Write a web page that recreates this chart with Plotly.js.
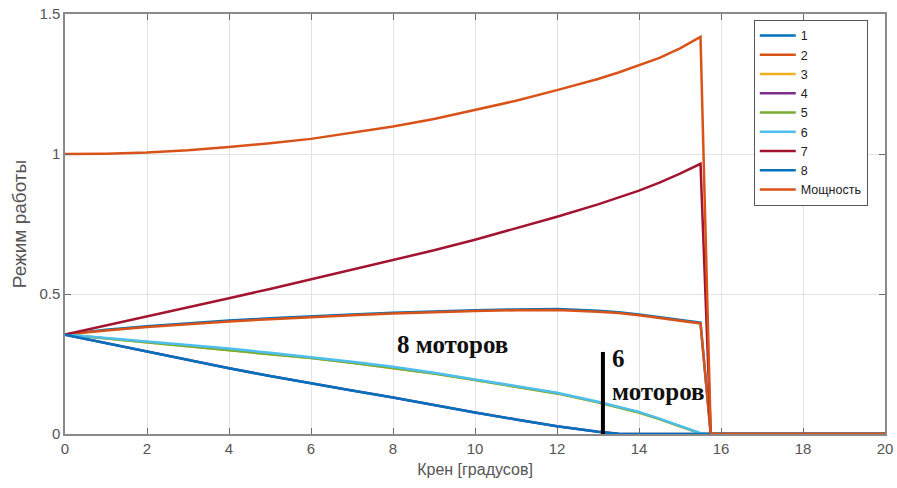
<!DOCTYPE html>
<html><head><meta charset="utf-8">
<script src="https://cdn.plot.ly/plotly-3.0.1.min.js"></script>
<style>body{margin:0;background:#fff}#c{width:897px;height:488px}</style>
</head><body><div id="c"></div>
<script>
const xs = [0,1,2,3,4,5,6,7,8,9,10,11,12,13,13.5,14,14.5,15,15.5,15.75,16,17,18,19,20];
const power  = [1.0,1.001,1.005,1.013,1.025,1.038,1.054,1.075,1.098,1.125,1.157,1.19,1.228,1.268,1.291,1.316,1.343,1.377,1.418,0,0,0,0,0,0];
const motor7 = [0.355,0.387,0.42,0.452,0.485,0.518,0.552,0.586,0.62,0.656,0.694,0.734,0.776,0.82,0.844,0.869,0.898,0.93,0.965,0,0,0,0,0,0];
const motorMid = [0.355,0.37,0.382,0.393,0.402,0.41,0.418,0.424,0.43,0.435,0.439,0.442,0.443,0.437,0.432,0.424,0.414,0.405,0.395,0,0,0,0,0,0];
const motorMidB = [0.355,0.372,0.385,0.396,0.405,0.413,0.421,0.427,0.433,0.438,0.442,0.445,0.446,0.44,0.435,0.427,0.417,0.408,0.398,0,0,0,0,0,0];
const motorLight = [0.355,0.343,0.331,0.318,0.305,0.29,0.275,0.258,0.24,0.219,0.195,0.172,0.147,0.115,0.098,0.079,0.055,0.028,0.003,0,0,0,0,0,0];
const motorLightG = [0.355,0.341,0.328,0.315,0.301,0.286,0.271,0.254,0.236,0.216,0.193,0.17,0.145,0.113,0.096,0.077,0.053,0.027,0.002,0,0,0,0,0,0];
const motorDark = [0.355,0.325,0.294,0.264,0.235,0.207,0.18,0.155,0.13,0.103,0.077,0.052,0.028,0.008,0.001,0,0,0,0,0,0,0,0,0,0];
const names = ['1','2','3','4','5','6','7','8','Мощность'];
const colors = ['#0072BD','#D95319','#EDB120','#7E2F8E','#77AC30','#4DBEEE','#A2142F','#0072BD','#D95319'];
const series = [motorMidB, motorMid, motorLightG, motorDark, motorLightG, motorLight, motor7, motorDark, power];
const labelText8 = '<b>8 моторов</b>';
const labelText6a = '<b>6</b>';
const labelText6b = '<b>моторов</b>';
const barX = 13.12, barTop = 0.293;

const traces = series.map((ys,i)=>({x:xs,y:ys,type:'scatter',mode:'lines',name:names[i],
  line:{color:colors[i],width:2.5}}));

const axisCommon = {showline:true,linecolor:'#8a8a8a',linewidth:1.5,mirror:'ticks',ticks:'inside',ticklen:6,
  tickcolor:'#6a6a6a',gridcolor:'#e3e3e3',zeroline:false,tickfont:{family:'Liberation Sans, Arial',size:15,color:'#555'}};

const serif = 'Liberation Serif, Times New Roman';
const layout = {
  width:897,height:488,margin:{l:65,r:12,t:14,b:54},
  paper_bgcolor:'#fff',plot_bgcolor:'#fff',
  xaxis:Object.assign({},axisCommon,{range:[0,20],dtick:2,tick0:0,
    title:{text:'Крен [градусов]',font:{family:'Liberation Sans, Arial',size:16,color:'#555'},standoff:8}}),
  yaxis:Object.assign({},axisCommon,{range:[0,1.5],tickvals:[0,0.5,1,1.5],ticktext:['0','0.5','1','1.5'],
    title:{text:'Режим работы',font:{family:'Liberation Sans, Arial',size:19,color:'#555'},standoff:8}}),
  legend:{x:0.979,y:0.986,xanchor:'right',yanchor:'top',bgcolor:'#fff',bordercolor:'#555',borderwidth:1,
    itemwidth:36,font:{family:'Liberation Sans, Arial',size:12.5,color:'#222'},tracegroupgap:0},
  showlegend:true,
  shapes:[{type:'line',xref:'x',yref:'y',x0:barX,x1:barX,y0:0,y1:barTop,line:{color:'#000',width:4}}],
  annotations:[
    {xref:'x',yref:'y',x:9.46,y:0.318,text:labelText8,showarrow:false,font:{family:serif,size:25,color:'#111'}},
    {xref:'x',yref:'y',x:13.3,y:0.268,xanchor:'left',text:labelText6a,showarrow:false,font:{family:serif,size:25,color:'#111'}},
    {xref:'x',yref:'y',x:13.3,y:0.153,xanchor:'left',text:labelText6b,showarrow:false,font:{family:serif,size:25,color:'#111'}}
  ]
};
Plotly.newPlot('c',traces,layout,{displayModeBar:false});
</script></body></html>
